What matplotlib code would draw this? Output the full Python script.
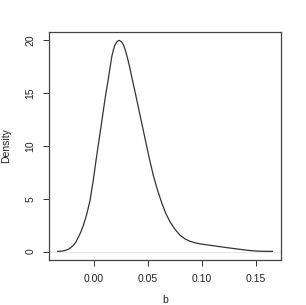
import matplotlib
matplotlib.use("Agg")
import matplotlib.pyplot as plt

plt.rcParams['font.family'] = ['Liberation Sans', 'DejaVu Sans']

# density estimate of b
b_x = [-0.0336, -0.0300, -0.0269, -0.0230, -0.0192, -0.0168, -0.0145, -0.0122,
       -0.0099, -0.0068, -0.0037, -0.0006, 0.0017, 0.0040, 0.0063, 0.0086,
       0.0109, 0.0132, 0.0150, 0.0164, 0.0180, 0.0194, 0.0215, 0.0234, 0.0255,
       0.0272, 0.0287, 0.0310, 0.0333, 0.0356, 0.0380, 0.0403, 0.0426, 0.0449,
       0.0472, 0.0512, 0.0549, 0.0588, 0.0627, 0.0665, 0.0704, 0.0750, 0.0796,
       0.0842, 0.0889, 0.0935, 0.0980, 0.1070, 0.1160, 0.1260, 0.1350, 0.1440,
       0.1500, 0.1550, 0.1600, 0.1652]
b_density = [0.02, 0.04, 0.10, 0.25, 0.57, 0.90, 1.36, 1.85,
             2.46, 3.50, 4.83, 6.80, 8.50, 10.1, 11.7, 13.3,
             14.9, 16.3, 17.5, 18.4, 19.1, 19.55, 19.88, 19.97, 19.83,
             19.55, 19.15, 18.3, 17.3, 16.2, 15.1, 14.0, 12.9, 11.8,
             10.7, 8.8, 7.2, 5.8, 4.6, 3.6, 2.8, 2.1, 1.55,
             1.2, 0.97, 0.83, 0.73, 0.60, 0.47, 0.33, 0.21, 0.10,
             0.05, 0.03, 0.02, 0.02]
x_ticks = [0.00, 0.05, 0.10, 0.15]
x_tick_labels = ['0.00', '0.05', '0.10', '0.15']
y_ticks = [0, 5, 10, 15, 20]

fig = plt.figure(figsize=(3.06, 3.05), dpi=100)
ax = fig.add_axes([0.160, 0.1475, 0.758, 0.7475])

ax.axhline(0, color='#e8e8e8', linewidth=0.8, zorder=1)
ax.plot(b_x, b_density, color='#333333', linewidth=0.9, zorder=2,
        solid_joinstyle='round')

ax.set_xlim(-0.0417, 0.173)
ax.set_ylim(-0.8, 20.76)
ax.set_xticks(x_ticks)
ax.set_xticklabels(x_tick_labels)
ax.set_yticks(y_ticks)
ax.set_yticklabels([str(v) for v in y_ticks], rotation=90, va='center')
ax.tick_params(labelsize=7.5, length=4.3, width=0.7, color='#333333',
               labelcolor='#222222', pad=5.5)

for s in ax.spines.values():
    s.set_color('#444444')
    s.set_linewidth(0.9)

ax.set_xlabel('b', fontsize=7.5, labelpad=8, color='#222222')
ax.set_ylabel('Density', fontsize=7.5, labelpad=10, color='#222222')

fig.savefig('out.png', dpi=100)
